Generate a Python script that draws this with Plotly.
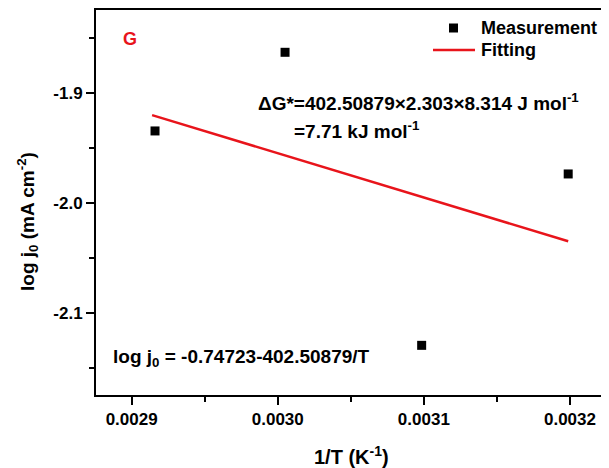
import plotly.graph_objects as go

# Data
inv_T = [0.002916, 0.003005, 0.0030985, 0.0031988]
log_j0 = [-1.9345, -1.8630, -2.1294, -1.9736]

fit_intercept = -0.74723
fit_slope = -402.50879
fit_x = [0.002914, 0.0031988]
fit_y = [fit_intercept + fit_slope * v for v in fit_x]

x_tickvals = [0.0029, 0.0030, 0.0031, 0.0032]
x_ticktext = ["0.0029", "0.0030", "0.0031", "0.0032"]
y_tickvals = [-1.9, -2.0, -2.1]
y_ticktext = ["-1.9", "-2.0", "-2.1"]
legend_labels = ["Measurement", "Fitting"]

FONT = "Liberation Sans, Arial, sans-serif"
RED = "#e8141b"
# page has an 8px body margin: figure coords = screen coords - 8
OFF = 8
L_S, T_S = 96, 10          # plot-area left/top in screen pixels
FIG_W, FIG_H = 609, 468
L, T = L_S - OFF, T_S - OFF
W = FIG_W - L
H = 385
X0 = 0.0028756
PX_PER_UNIT = 1461000.0
X1 = X0 + W / PX_PER_UNIT


def px(xs):
    return (xs - L_S) / W


def py(ys):
    return 1 - (ys - T_S) / H


fig = go.Figure()
fig.add_trace(go.Scatter(
    x=inv_T, y=log_j0, mode="markers", name=legend_labels[0], showlegend=False,
    marker=dict(symbol="square", size=9, color="black"),
))
fig.add_trace(go.Scatter(
    x=fit_x, y=fit_y, mode="lines", name=legend_labels[1], showlegend=False,
    line=dict(color=RED, width=2.5),
))

axis_common = dict(
    showline=True, linecolor="black", linewidth=2,
    ticks="outside", ticklen=8, tickwidth=2, tickcolor="black",
    showgrid=False, zeroline=False, automargin=False,
    tickfont=dict(family=FONT, size=17, color="black"),
)

fig.update_xaxes(
    range=[X0, X1], tickvals=x_tickvals,
    ticktext=["<b>%s</b>" % t for t in x_ticktext],
    mirror=True,
    minor=dict(tickvals=[0.00295, 0.00305, 0.00315], ticks="outside", ticklen=5,
               tickwidth=2, tickcolor="black"),
    **axis_common,
)
fig.update_yaxes(
    range=[-2.17455, -1.82455], tickvals=y_tickvals,
    ticktext=["<b>%s</b>" % t for t in y_ticktext],
    minor=dict(tickvals=[-1.85, -1.95, -2.05, -2.15], ticks="outside", ticklen=5,
               tickwidth=2, tickcolor="black"),
    **axis_common,
)

# axis titles
fig.add_annotation(x=px(351), y=py(455), xref="paper", yref="paper",
                   text="<b>1/T (K<sup>-1</sup>)</b>", showarrow=False,
                   xanchor="center", yanchor="middle",
                   font=dict(family=FONT, size=20, color="black"))
fig.add_annotation(x=px(28), y=py(222), xref="paper", yref="paper",
                   text="<b>log j<sub>0</sub> (mA cm<sup>-2</sup>)</b>", showarrow=False,
                   textangle=-90, xanchor="center", yanchor="middle",
                   font=dict(family=FONT, size=19, color="black"))

fig.add_annotation(x=px(130), y=py(39), xref="paper", yref="paper", text="<b>G</b>",
                   showarrow=False, xanchor="center", yanchor="middle",
                   font=dict(family=FONT, size=18, color=RED))
fig.add_annotation(x=px(256), y=py(102), xref="paper", yref="paper",
                   text="<b>ΔG*=402.50879×2.303×8.314 J mol<sup>-1</sup></b>",
                   showarrow=False, xanchor="left", yanchor="middle",
                   font=dict(family=FONT, size=19, color="black"))
fig.add_annotation(x=px(292), y=py(130), xref="paper", yref="paper",
                   text="<b>=7.71 kJ mol<sup>-1</sup></b>",
                   showarrow=False, xanchor="left", yanchor="middle",
                   font=dict(family=FONT, size=19, color="black"))
fig.add_annotation(x=px(111), y=py(358), xref="paper", yref="paper",
                   text="<b>log j<sub>0</sub> = -0.74723-402.50879/T</b>",
                   showarrow=False, xanchor="left", yanchor="middle",
                   font=dict(family=FONT, size=19, color="black"))

# legend (drawn manually to match the compact original)
for label, ys in zip(legend_labels, [28, 50]):
    fig.add_annotation(x=px(479), y=py(ys), xref="paper", yref="paper",
                       text="<b>%s</b>" % label, showarrow=False,
                       xanchor="left", yanchor="middle",
                       font=dict(family=FONT, size=18, color="black"))
fig.add_shape(type="rect", xref="paper", yref="paper",
              x0=px(449), x1=px(458), y0=py(32.5), y1=py(23.5),
              fillcolor="black", line=dict(width=0))
fig.add_shape(type="line", xref="paper", yref="paper",
              x0=px(433), x1=px(475), y0=py(50), y1=py(50),
              line=dict(color=RED, width=2.5))

fig.update_layout(
    width=FIG_W, height=FIG_H,
    margin=dict(l=L, r=0, t=T, b=FIG_H - T - H),
    paper_bgcolor="white", plot_bgcolor="white",
    showlegend=False,
)

fig.write_html("out.html")
